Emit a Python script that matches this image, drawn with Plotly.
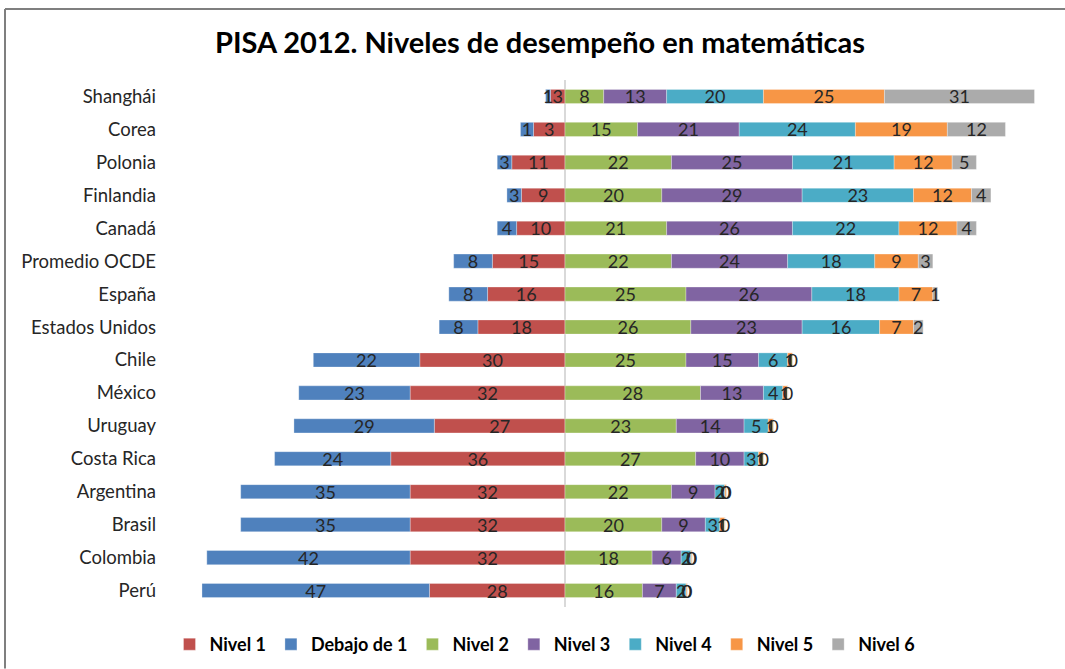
import plotly.graph_objects as go

paises = ["Shanghái", "Corea", "Polonia", "Finlandia", "Canadá", "Promedio OCDE",
          "España", "Estados Unidos", "Chile", "México", "Uruguay", "Costa Rica",
          "Argentina", "Brasil", "Colombia", "Perú"]

# bar lengths (percent of students)
nivel1 = [3, 6.5, 11, 9, 10, 15, 16, 18, 30, 32, 27, 36, 32, 32, 32, 28]
debajo1 = [1, 2.7, 3, 3, 4, 8, 8, 8, 22, 23, 29, 24, 35, 35, 42, 47]
nivel2 = [8, 15, 22, 20, 21, 22, 25, 26, 25, 28, 23, 27, 22, 20, 18, 16]
nivel3 = [13, 21, 25, 29, 26, 24, 26, 23, 15, 13, 14, 10, 9, 9, 6, 7]
nivel4 = [20, 24, 21, 23, 22, 18, 18, 16, 6, 4, 5, 3, 2, 3, 2, 2]
nivel5 = [25, 19, 12, 12, 12, 9, 7, 7, 1, 1, 1, 1, 0.3, 1, 0.2, 0.2]
nivel6 = [31, 12, 5, 4, 4, 3, 1, 2, 0.1, 0.1, 0.1, 0.1, 0.1, 0.1, 0.1, 0.1]

# data labels as printed on the picture (Corea's negative labels differ from bar lengths)
etiq_nivel1 = ["3", "3", "11", "9", "10", "15", "16", "18", "30", "32", "27", "36", "32", "32", "32", "28"]
etiq_debajo1 = ["1", "1", "3", "3", "4", "8", "8", "8", "22", "23", "29", "24", "35", "35", "42", "47"]

def etiquetas(vals):
    return [f"{v:.0f}" for v in vals]

series = [
    ("Nivel 1", nivel1, etiq_nivel1, "#C0504D", -1),
    ("Debajo de 1", debajo1, etiq_debajo1, "#4F81BD", -1),
    ("Nivel 2", nivel2, etiquetas(nivel2), "#9BBB59", 1),
    ("Nivel 3", nivel3, etiquetas(nivel3), "#8064A2", 1),
    ("Nivel 4", nivel4, etiquetas(nivel4), "#4BACC6", 1),
    ("Nivel 5", nivel5, etiquetas(nivel5), "#F79646", 1),
    ("Nivel 6", nivel6, etiquetas(nivel6), "#ABABAB", 1),
]

FONT = "Lato"
fig = go.Figure()
for name, vals, labels, color, sign in series:
    fig.add_trace(go.Bar(
        name=name,
        y=paises,
        x=[sign * v for v in vals],
        orientation="h",
        marker=dict(color=color, line=dict(color="rgba(255,255,255,0.6)", width=0.5)),
        text=labels,
        texttemplate="%{text}",
        textposition="inside",
        insidetextanchor="middle",
        textangle=0,
        constraintext="none",
        textfont=dict(family=FONT, size=18, color="#262626"),
        cliponaxis=False,
    ))

L, R, T, B = 162, 16, 80, 61.5
W, H = 1065, 669
pw = W - L - R
ph = H - T - B

def px(x):
    return (x - L) / pw

def py(y):
    return (H - B - y) / ph

fig.update_layout(
    width=W, height=H,
    barmode="relative",
    bargap=0.57,
    plot_bgcolor="white",
    paper_bgcolor="white",
    margin=dict(l=L, r=R, t=T, b=B, autoexpand=False),
    title=dict(text="<b>PISA 2012. Niveles de desempeño en matemáticas</b>",
               x=540 / W, xanchor="center", y=1 - 43 / H, yanchor="middle",
               font=dict(family=FONT, size=29, color="#000000")),
    xaxis=dict(range=[-83.26, 100], showticklabels=False, showgrid=False, automargin=False,
               zeroline=True, zerolinecolor="#D9D9D9", zerolinewidth=2, fixedrange=True),
    yaxis=dict(autorange="reversed", showgrid=False, zeroline=False, ticks="", automargin=False,
               ticklabelstandoff=5,
               tickfont=dict(family=FONT, size=18.5, color="#262626")),
    legend=dict(orientation="h", x=px(545), xanchor="center", y=py(645), yanchor="middle",
                font=dict(family=FONT, size=18, color="#000000", weight="bold"),
                itemwidth=30, traceorder="normal"),
    showlegend=True,
    font=dict(family=FONT),
    shapes=[
        dict(type="line", xref="paper", yref="paper", x0=px(5), x1=px(5), y0=py(9), y1=py(669),
             line=dict(color="#7F7F7F", width=2)),
        dict(type="line", xref="paper", yref="paper", x0=px(5), x1=px(1065), y0=py(9), y1=py(9),
             line=dict(color="#7F7F7F", width=2)),
    ],
)

fig.write_html("out.html",
               config={"displayModeBar": False},
               post_script="document.body.style.margin='0';document.body.style.overflow='hidden';")
